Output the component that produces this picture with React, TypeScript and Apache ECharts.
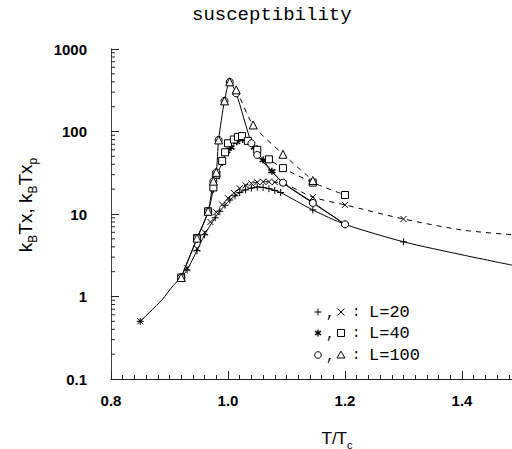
import React, { useEffect, useRef } from 'react';
import * as echarts from 'echarts';

const X_MIN = 0.8;
const X_MAX = 1.4855;
const Y_MIN = 0.1;
const Y_MAX = 1000;

const TITLE = 'susceptibility';
const LEGEND_LABELS = ['L=20', 'L=40', 'L=100'];

// L = 20 : chi (+, solid) and chi_p (x, dashed)
const chi20: number[][] = [
  [0.85, 0.5], [0.92, 1.7], [0.93, 2.1], [0.947, 3.6], [0.96, 5.6], [0.978, 9], [0.986, 10.8],
  [0.995, 12.8], [1.003, 14.8], [1.012, 16.6], [1.02, 18.2], [1.03, 19.6], [1.04, 20.6],
  [1.05, 21.2], [1.06, 21], [1.07, 20.3], [1.08, 19.3], [1.09, 18.2], [1.145, 11.2], [1.2, 7.5], [1.3, 4.6],
];
const chi20Curve: number[][] = [[0.887, 0.91], [0.906, 1.35], [1.4, 3.2], [1.4855, 2.4]];
const chi20p: number[][] = [
  [0.85, 0.5], [0.92, 1.7], [0.93, 2.2], [0.947, 3.8], [0.96, 6], [0.97, 8], [0.98, 10.5], [0.99, 13],
  [1.0, 15.5], [1.01, 18], [1.02, 20.5], [1.03, 22.3], [1.04, 23.5], [1.05, 24.3], [1.06, 24.6],
  [1.07, 24.6], [1.08, 24.3], [1.094, 23.8], [1.145, 16], [1.2, 12.9], [1.3, 8.7],
];
const chi20pCurve: number[][] = [[1.4, 6.4], [1.4855, 5.6]];

// L = 40 : chi (*, solid) and chi_p (square, dashed)
const chi40: number[][] = [
  [0.92, 1.7], [0.947, 5], [0.966, 10.5], [0.975, 20], [0.98, 28], [0.99, 42], [0.998, 58],
  [1.005, 64], [1.015, 75], [1.025, 80], [1.035, 76], [1.045, 64], [1.06, 45], [1.075, 33],
  [1.094, 24], [1.145, 13.8], [1.2, 7.5],
];
const chi40p: number[][] = [
  [0.92, 1.7], [0.947, 5.1], [0.966, 10.8], [0.975, 21], [0.98, 30], [0.99, 44], [0.995, 56],
  [1.0, 72], [1.01, 80], [1.017, 86], [1.024, 88], [1.034, 77], [1.05, 60], [1.07, 46],
  [1.094, 36], [1.145, 24], [1.2, 17],
];

// L = 100 : chi (circle, solid) and chi_p (triangle, dashed)
const chi100: number[][] = [
  [0.92, 1.7], [0.947, 5.1], [0.966, 10.8], [0.975, 25], [0.98, 32], [0.984, 79], [0.994, 235],
  [1.003, 400], [1.014, 290], [1.04, 72], [1.05, 52], [1.094, 24], [1.145, 13.6], [1.2, 7.5],
];
const chi100p: number[][] = [
  [0.92, 1.7], [0.947, 5.1], [0.966, 10.8], [0.975, 25], [0.98, 32], [0.984, 79], [0.994, 235],
  [1.003, 400], [1.014, 320], [1.043, 120], [1.094, 53], [1.145, 25.5],
];

const Y_MINOR_FACTORS = [2, 3, 4, 5, 6, 7, 8, 9];
const Y_DECADES = [0.1, 1, 10, 100];

const PLUS = 'path://M5,0L5,10M0,5L10,5';
const CROSS = 'path://M0,0L10,10M0,10L10,0';
const STAR = 'path://M5,0L5,10M0.7,2.5L9.3,7.5M0.7,7.5L9.3,2.5';

const sortByX = (a: number[][]) => [...a].sort((p, q) => p[0] - q[0]);

function lineSeries(data: number[][], dashed: boolean) {
  return {
    type: 'line',
    data: sortByX(data),
    smooth: 0.25,
    showSymbol: false,
    symbol: 'none',
    silent: true,
    z: 2,
    lineStyle: { color: '#000', width: 1, type: dashed ? [5, 5] : 'solid' },
  };
}

function markerSeries(data: number[][], symbol: string, open: boolean, size = 7, bw = 1.1) {
  return {
    type: 'scatter',
    data,
    symbol,
    symbolSize: size,
    z: 3,
    itemStyle: { color: open ? '#fff' : '#000', borderColor: '#000', borderWidth: bw, opacity: 1 },
  };
}

function legendGlyph(kind: string, cx: number, cy: number): any[] {
  const st = { stroke: '#000', lineWidth: 1, fill: '#fff' };
  const r = 3.5;
  switch (kind) {
    case '+':
      return [
        { type: 'line', shape: { x1: cx - r, y1: cy, x2: cx + r, y2: cy }, style: st },
        { type: 'line', shape: { x1: cx, y1: cy - r, x2: cx, y2: cy + r }, style: st },
      ];
    case 'x':
      return [
        { type: 'line', shape: { x1: cx - r, y1: cy - r, x2: cx + r, y2: cy + r }, style: st },
        { type: 'line', shape: { x1: cx - r, y1: cy + r, x2: cx + r, y2: cy - r }, style: st },
      ];
    case '*':
      return [
        { type: 'line', shape: { x1: cx, y1: cy - r, x2: cx, y2: cy + r }, style: { ...st, lineWidth: 1.4 } },
        { type: 'line', shape: { x1: cx - 3, y1: cy - 1.8, x2: cx + 3, y2: cy + 1.8 }, style: { ...st, lineWidth: 1.4 } },
        { type: 'line', shape: { x1: cx - 3, y1: cy + 1.8, x2: cx + 3, y2: cy - 1.8 }, style: { ...st, lineWidth: 1.4 } },
      ];
    case 'rect':
      return [{ type: 'rect', shape: { x: cx - 3.5, y: cy - 3.5, width: 7, height: 7 }, style: st }];
    case 'circle':
      return [{ type: 'circle', shape: { cx, cy, r: 3.3 }, style: st }];
    default:
      return [{ type: 'polygon', shape: { points: [[cx, cy - 3.8], [cx + 4, cy + 3], [cx - 4, cy + 3]] }, style: st }];
  }
}

export default function App() {
  const ref = useRef<HTMLDivElement>(null);
  useEffect(() => {
    const chart = echarts.init(ref.current!, null, { renderer: 'svg' });

    const minorTicks: number[][] = [];
    Y_DECADES.forEach((d) => Y_MINOR_FACTORS.forEach((f) => minorTicks.push([X_MIN, d * f])));

    const legendRows = [
      ['+', 'x'],
      ['*', 'rect'],
      ['circle', 'tri'],
    ];
    const rowY = [312, 333, 355];
    const legendGraphics: any[] = [];
    legendRows.forEach((g, i) => {
      const y = rowY[i];
      legendGraphics.push(...legendGlyph(g[0], 318, y));
      legendGraphics.push({ type: 'text', x: 326, y: y + 1, style: { text: ',', font: '14px "Liberation Mono"', fill: '#000', verticalAlign: 'middle' } });
      legendGraphics.push(...legendGlyph(g[1], 341, y));
      legendGraphics.push({ type: 'text', x: 352, y: y, style: { text: ':', font: '14px "Liberation Mono"', fill: '#000', verticalAlign: 'middle' } });
      legendGraphics.push({ type: 'text', x: 369, y: y, style: { text: LEGEND_LABELS[i], font: '17px "Liberation Mono"', fill: '#000', verticalAlign: 'middle' } });
    });

    const option: any = {
      animation: false,
      backgroundColor: '#fff',
      grid: { left: 111, top: 49, right: 0, bottom: 70, containLabel: false },
      xAxis: {
        type: 'value',
        min: X_MIN,
        max: X_MAX,
        interval: 0.2,
        splitLine: { show: false },
        axisLine: { lineStyle: { color: '#222', width: 1 } },
        axisTick: { inside: true, length: 8, lineStyle: { color: '#222' } },
        minorTick: { show: true, splitNumber: 10, length: 4, lineStyle: { color: '#222' } },
        axisLabel: {
          showMaxLabel: false,
          margin: 14,
          color: '#000',
          fontFamily: 'Liberation Sans',
          fontWeight: 'bold',
          fontSize: 15,
          formatter: (v: number) => v.toFixed(1),
        },
      },
      yAxis: {
        type: 'log',
        logBase: 10,
        min: Y_MIN,
        max: Y_MAX,
        splitLine: { show: false },
        axisLine: { lineStyle: { color: '#444', width: 1 } },
        axisTick: { inside: true, length: 8, lineStyle: { color: '#222' } },
        axisLabel: {
          margin: 24,
          color: '#000',
          fontFamily: 'Liberation Sans',
          fontWeight: 'bold',
          fontSize: 15,
          formatter: (v: number) => String(Number(v.toPrecision(3))),
        },
      },
      graphic: [
        {
          type: 'text',
          x: 192,
          y: 15,
          style: { text: TITLE, font: '19px "Liberation Mono"', fill: '#000', verticalAlign: 'middle' },
        },
        {
          type: 'text',
          x: 25,
          y: 205,
          rotation: Math.PI / 2,
          style: {
            text: '{n|k}{s|B}{n|Tx, k}{s|B}{n|Tx}{s|p}',
            align: 'center',
            verticalAlign: 'middle',
            rich: {
              n: { font: '19px "Liberation Sans"', fill: '#000', lineHeight: 28, verticalAlign: 'middle' },
              s: { font: '12px "Liberation Sans"', fill: '#000', lineHeight: 28, verticalAlign: 'bottom' },
            },
          },
        },
        {
          type: 'text',
          x: 337,
          y: 438,
          style: {
            text: '{n|T/T}{s|c}',
            align: 'center',
            verticalAlign: 'middle',
            rich: {
              n: { font: '17px "Liberation Sans"', fill: '#000', lineHeight: 24, verticalAlign: 'middle' },
              s: { font: '11px "Liberation Sans"', fill: '#000', lineHeight: 24, verticalAlign: 'bottom' },
            },
          },
        },
        ...legendGraphics,
      ],
      series: [
        {
          type: 'custom',
          data: minorTicks,
          clip: false,
          silent: true,
          renderItem: (_p: any, api: any) => {
            const pt = api.coord([api.value(0), api.value(1)]);
            return {
              type: 'line',
              shape: { x1: pt[0], y1: pt[1], x2: pt[0] + 4, y2: pt[1] },
              style: { stroke: '#222', lineWidth: 1 },
            };
          },
        },
        lineSeries([...chi20, ...chi20Curve], false),
        lineSeries([...chi20p.filter((p) => p[0] >= 1.0), ...chi20pCurve], true),
        lineSeries(chi40, false),
        lineSeries(chi40p.filter((p) => p[0] >= 1.024), true),
        lineSeries(chi100, false),
        lineSeries(chi100p.filter((p) => p[0] >= 1.003), true),
        markerSeries(chi20, PLUS, false, 7, 1),
        markerSeries(chi20p, CROSS, false, 6, 1),
        markerSeries(chi40, STAR, false, 7, 1.5),
        markerSeries(chi40p, 'rect', true, 7, 1),
        markerSeries(chi100, 'circle', true, 7, 1),
        markerSeries(chi100p, 'triangle', true, 8, 1),
      ],
    };
    chart.setOption(option);
    return () => chart.dispose();
  }, []);
  return <div ref={ref} style={{ position: 'absolute', left: 0, top: 0, width: 512, height: 449 }} />;
}
